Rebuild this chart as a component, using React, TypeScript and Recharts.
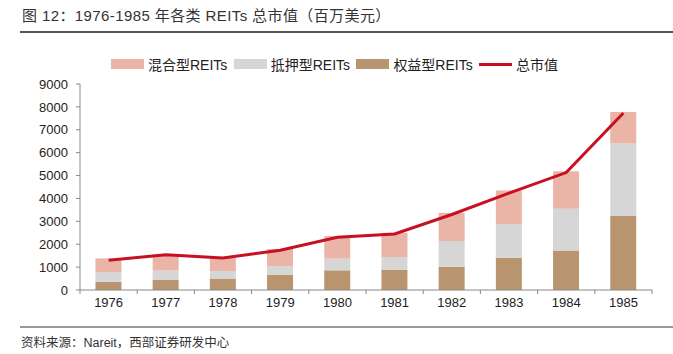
import { ComposedChart, Bar, Line, XAxis, YAxis } from "recharts";

const years = ["1976", "1977", "1978", "1979", "1980", "1981", "1982", "1983", "1984", "1985"];
// 权益型 / 抵押型 / 混合型 REITs 市值（百万美元）
const equity = [360, 450, 500, 670, 860, 890, 1010, 1410, 1730, 3230];
const mortgage = [420, 400, 330, 370, 510, 550, 1130, 1460, 1820, 3170];
const hybrid = [600, 690, 590, 750, 990, 1060, 1230, 1480, 1640, 1380];
const total = [1300, 1540, 1400, 1740, 2300, 2450, 3300, 4230, 5130, 7730];
const yTicks = [0, 1000, 2000, 3000, 4000, 5000, 6000, 7000, 8000, 9000];

const data = years.map((y, i) => ({
  year: y,
  equity: equity[i],
  mortgage: mortgage[i],
  hybrid: hybrid[i],
  total: total[i],
}));

const C_HYBRID = "#EAB4A7";
const C_MORT = "#D6D6D6";
const C_EQUITY = "#B8956F";
const C_LINE = "#C80F23";
const FONT = "'Liberation Sans', Arial, 'Noto Sans CJK SC', sans-serif";

function XTick(props: any) {
  const { x, y, payload, index } = props;
  const half = payload.offset ?? 28.6;
  const ay = y - 8;
  return (
    <g>
      <line x1={x - half} y1={ay} x2={x - half} y2={ay + 4} stroke="#888" />
      {index === years.length - 1 && (
        <line x1={x + half} y1={ay} x2={x + half} y2={ay + 4} stroke="#888" />
      )}
      <text x={x} y={y} dy="0.71em" textAnchor="middle" fontSize={13} fill="#222" fontFamily={FONT}>
        {payload.value}
      </text>
    </g>
  );
}

const legendItems = [
  { label: "混合型REITs", color: C_HYBRID, line: false },
  { label: "抵押型REITs", color: C_MORT, line: false },
  { label: "权益型REITs", color: C_EQUITY, line: false },
  { label: "总市值", color: C_LINE, line: true },
];

export default function App() {
  return (
    <div
      style={{
        position: "absolute",
        left: 0,
        top: 0,
        width: 673,
        height: 354,
        background: "#fff",
        fontFamily: FONT,
        color: "#333",
      }}
    >
      <div style={{ position: "absolute", left: 22, top: 4, fontSize: 15, letterSpacing: 0.4, whiteSpace: "nowrap" }}>
        图 12：1976-1985 年各类 REITs 总市值（百万美元）
      </div>
      <div style={{ position: "absolute", left: 20, right: 0, top: 31, height: 2, background: "#555" }} />

      <div
        style={{
          position: "absolute",
          left: 111,
          top: 54,
          display: "flex",
          alignItems: "center",
          fontSize: 14,
          color: "#222",
          whiteSpace: "nowrap",
        }}
      >
        {legendItems.map((it) => (
          <div key={it.label} style={{ display: "flex", alignItems: "center", width: 122.7 }}>
            <span
              style={{
                display: "inline-block",
                width: 33,
                height: it.line ? 3 : 10,
                background: it.color,
                marginRight: 4,
              }}
            />
            <span>{it.label}</span>
          </div>
        ))}
      </div>

      <div style={{ position: "absolute", left: 0, top: 0 }}>
        <ComposedChart
          width={673}
          height={354}
          data={data}
          margin={{ top: 84, right: 21, bottom: 34, left: 20 }}
          barCategoryGap="27%"
        >
          <XAxis
            dataKey="year"
            height={30}
            stroke="#888"
            tickLine={false}
            tickSize={0}
            tickMargin={8}
            tick={<XTick />}
            interval={0}
          />
          <YAxis
            width={60}
            domain={[0, 9000]}
            ticks={yTicks}
            interval={0}
            stroke="#888"
            tickSize={4}
            tickMargin={8}
            tick={{ fontSize: 13, fill: "#222", fontFamily: FONT }}
          />
          <Bar dataKey="equity" stackId="a" fill={C_EQUITY} isAnimationActive={false} />
          <Bar dataKey="mortgage" stackId="a" fill={C_MORT} isAnimationActive={false} />
          <Bar dataKey="hybrid" stackId="a" fill={C_HYBRID} isAnimationActive={false} />
          <Line
            dataKey="total"
            type="linear"
            stroke={C_LINE}
            strokeWidth={3}
            dot={false}
            isAnimationActive={false}
          />
        </ComposedChart>
      </div>

      <div style={{ position: "absolute", left: 20, right: 0, top: 326, height: 2, background: "#999" }} />
      <div style={{ position: "absolute", left: 21, top: 332, fontSize: 12.5, whiteSpace: "nowrap", color: "#333" }}>
        资料来源：Nareit，西部证券研发中心
      </div>
    </div>
  );
}
